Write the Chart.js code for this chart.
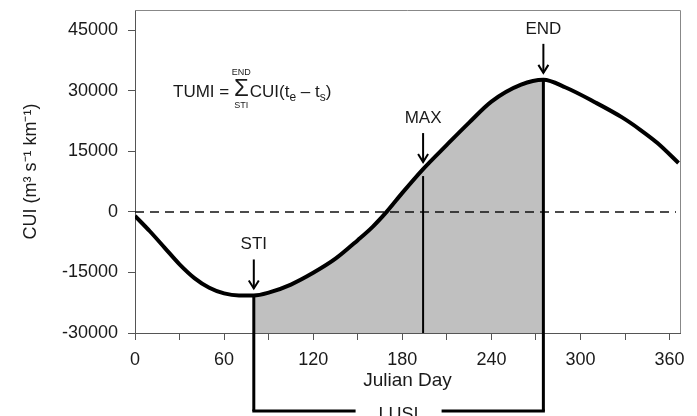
<!DOCTYPE html>
<html>
<head>
<meta charset="utf-8">
<script src="https://cdn.jsdelivr.net/npm/chart.js@4.4.1/dist/chart.umd.min.js"></script>
<style>
  html, body { margin: 0; padding: 0; background: #fff; }
  canvas { display: block; }
</style>
</head>
<body>
<canvas id="myChart" width="697" height="416"></canvas>
<script>
//Julian day and CUI
var days = [0,10,20,30,40,50,60,70,80,90,105,120,135,150,160,170,180,194,210,225,240,260,275,290,310,328,340,352,366];
var cui = [-1000,-4800,-8900,-13000,-16400,-18800,-20200,-20700,-20700,-20000,-18000,-15100,-11600,-7000,-3700,250,4700,10600,16600,22100,27300,31500,32700,30800,27100,23400,20400,17000,12100];

//tick positions
var xTicks = [0,30,60,90,120,150,180,210,240,270,300,330,360];
var yTicks = [-30000,-15000,0,15000,30000,45000];

//markers on the curve and the period below
var markerNames = ['STI','MAX','END'];
var markerDays = [80,194,275];
var periodName = 'LUSI';

var fontFamily = "'Liberation Sans', Arial, sans-serif";
var textColor = '#1a1a1a';

//curve points and the shaded STI..END part
var curvePoints = days.map(function(d, i){ return {x: d, y: cui[i]}; });
var shadedPoints = curvePoints.filter(function(p){
  return p.x >= markerDays[0] && p.x <= markerDays[markerDays.length - 1];
});

function pointOnCurve(chart, day){
  var meta = chart.getDatasetMeta(0);
  return meta.data[days.indexOf(day)];
}

function arrow(ctx, x, y1, y2){
  ctx.beginPath(); ctx.moveTo(x, y1); ctx.lineTo(x, y2); ctx.stroke();
  ctx.beginPath(); ctx.moveTo(x - 5, y2 - 8); ctx.lineTo(x, y2); ctx.lineTo(x + 5, y2 - 8); ctx.stroke();
}

function drawFormula(ctx, x, y){
  ctx.textAlign = 'left';
  ctx.textBaseline = 'alphabetic';
  ctx.font = '17px ' + fontFamily;
  ctx.fillText('TUMI = ', x, y);
  x += ctx.measureText('TUMI = ').width;
  ctx.font = '24px ' + fontFamily;
  var sw = ctx.measureText('\u03A3').width;
  ctx.fillText('\u03A3', x, y - 1);
  ctx.font = '9px ' + fontFamily;
  ctx.textAlign = 'center';
  ctx.fillText('END', x + sw / 2, y - 22);
  ctx.fillText('STI', x + sw / 2, y + 11);
  x += sw + 1;
  ctx.textAlign = 'left';
  var parts = [['CUI(t', 17, 0], ['e', 12, 4], [' \u2013 t', 17, 0], ['s', 12, 4], [')', 17, 0]];
  parts.forEach(function(p){
    ctx.font = p[1] + 'px ' + fontFamily;
    ctx.fillText(p[0], x, y + p[2]);
    x += ctx.measureText(p[0]).width;
  });
}

var annotations = {
  id: 'annotations',
  beforeDatasetsDraw: function(chart){
    var ctx = chart.ctx, area = chart.chartArea;
    var xs = chart.scales.x, ys = chart.scales.y;
    var bracketY = area.bottom + 78;
    ctx.save();
    //zero line
    var y0 = ys.getPixelForValue(0);
    ctx.setLineDash([9, 6]);
    ctx.strokeStyle = '#111';
    ctx.lineWidth = 1.5;
    ctx.beginPath(); ctx.moveTo(area.left, y0); ctx.lineTo(area.right - 4, y0); ctx.stroke();
    ctx.setLineDash([]);
    //vertical lines at the markers
    ctx.strokeStyle = '#000';
    markerDays.forEach(function(d, i){
      var p = pointOnCurve(chart, d);
      var x = xs.getPixelForValue(d);
      var edge = (i === 0 || i === markerDays.length - 1);
      ctx.lineWidth = edge ? 3 : 2;
      ctx.beginPath();
      ctx.moveTo(x, edge ? p.y : p.y + 7);
      ctx.lineTo(x, edge ? bracketY : area.bottom);
      ctx.stroke();
    });
    //bracket below the axis
    var xa = xs.getPixelForValue(markerDays[0]);
    var xb = xs.getPixelForValue(markerDays[markerDays.length - 1]);
    var xc = (xa + xb) / 2;
    ctx.lineWidth = 3;
    ctx.beginPath();
    ctx.moveTo(xa - 1.5, bracketY); ctx.lineTo(xc - 43, bracketY);
    ctx.moveTo(xc + 43, bracketY); ctx.lineTo(xb + 1.5, bracketY);
    ctx.stroke();
    ctx.fillStyle = textColor;
    ctx.font = '18px ' + fontFamily;
    ctx.textAlign = 'center';
    ctx.textBaseline = 'alphabetic';
    ctx.fillText(periodName, xc, bracketY + 9);
    ctx.restore();
  },
  afterDatasetsDraw: function(chart){
    var ctx = chart.ctx, area = chart.chartArea;
    var xs = chart.scales.x;
    ctx.save();
    //top and right frame
    ctx.strokeStyle = '#888';
    ctx.lineWidth = 1;
    ctx.beginPath();
    ctx.moveTo(area.left, area.top + 0.5);
    ctx.lineTo(area.right + 0.5, area.top + 0.5);
    ctx.lineTo(area.right + 0.5, area.bottom);
    ctx.stroke();
    //arrows and labels
    ctx.strokeStyle = '#000';
    ctx.fillStyle = textColor;
    ctx.lineWidth = 2;
    ctx.font = '17px ' + fontFamily;
    ctx.textAlign = 'center';
    ctx.textBaseline = 'middle';
    markerDays.forEach(function(d, i){
      var p = pointOnCurve(chart, d);
      var x = xs.getPixelForValue(d);
      arrow(ctx, x, p.y - 36, p.y - 7);
      ctx.fillText(markerNames[i], x, p.y - 51);
    });
    drawFormula(ctx, area.left + 38, area.top + 87);
    ctx.restore();
  }
};

var ctx = document.getElementById("myChart").getContext("2d");
var myChart = new Chart(ctx, {
  type: 'line',
  data: {
    datasets: [
      {
        data: curvePoints,
        borderColor: '#000',
        borderWidth: 4,
        pointRadius: 0,
        fill: false,
        cubicInterpolationMode: 'monotone',
        order: 1
      },
      {
        data: shadedPoints,
        borderWidth: 0,
        borderColor: 'rgba(0,0,0,0)',
        backgroundColor: '#c0c0c0',
        pointRadius: 0,
        fill: 'start',
        cubicInterpolationMode: 'monotone',
        order: 2
      }
    ]
  },
  options: {
    responsive: false,
    animation: false,
    layout: { padding: { top: 10, right: 17, left: 0, bottom: 0 } },
    plugins: {
      legend: { display: false },
      tooltip: { enabled: false },
      filler: { drawTime: 'beforeDatasetsDraw' }
    },
    scales: {
      x: {
        type: 'linear',
        min: 0,
        max: 367,
        afterBuildTicks: function(s){ s.ticks = xTicks.map(function(v){ return {value: v}; }); },
        afterFit: function(s){ s.height = 83; s.paddingRight = 0; s.paddingLeft = 0; },
        ticks: {
          callback: function(v){ return v % 60 === 0 ? String(v) : ''; },
          font: { size: 18, family: fontFamily },
          color: textColor,
          padding: 9,
          maxRotation: 0,
          autoSkip: false
        },
        grid: { drawOnChartArea: false, tickLength: 7, color: '#555' },
        border: { color: '#555', width: 1 },
        title: {
          display: true,
          text: 'Julian Day',
          font: { size: 19, family: fontFamily },
          color: textColor,
          padding: { top: 0, bottom: 24 }
        }
      },
      y: {
        min: -30000,
        max: 50000,
        afterBuildTicks: function(s){ s.ticks = yTicks.map(function(v){ return {value: v}; }); },
        afterFit: function(s){ s.width = 135; s.paddingTop = 0; s.paddingBottom = 0; },
        ticks: {
          callback: function(v){ return String(v); },
          font: { size: 18, family: fontFamily },
          color: textColor,
          padding: 10
        },
        grid: { drawOnChartArea: false, tickLength: 7, color: '#555' },
        border: { color: '#555', width: 1 },
        title: {
          display: true,
          text: 'CUI (m\u00B3 s\u207B\u00B9 km\u207B\u00B9)',
          font: { size: 18, family: fontFamily },
          color: textColor,
          padding: { top: 20, bottom: 0 }
        }
      }
    }
  },
  plugins: [annotations]
});
</script>
</body>
</html>
